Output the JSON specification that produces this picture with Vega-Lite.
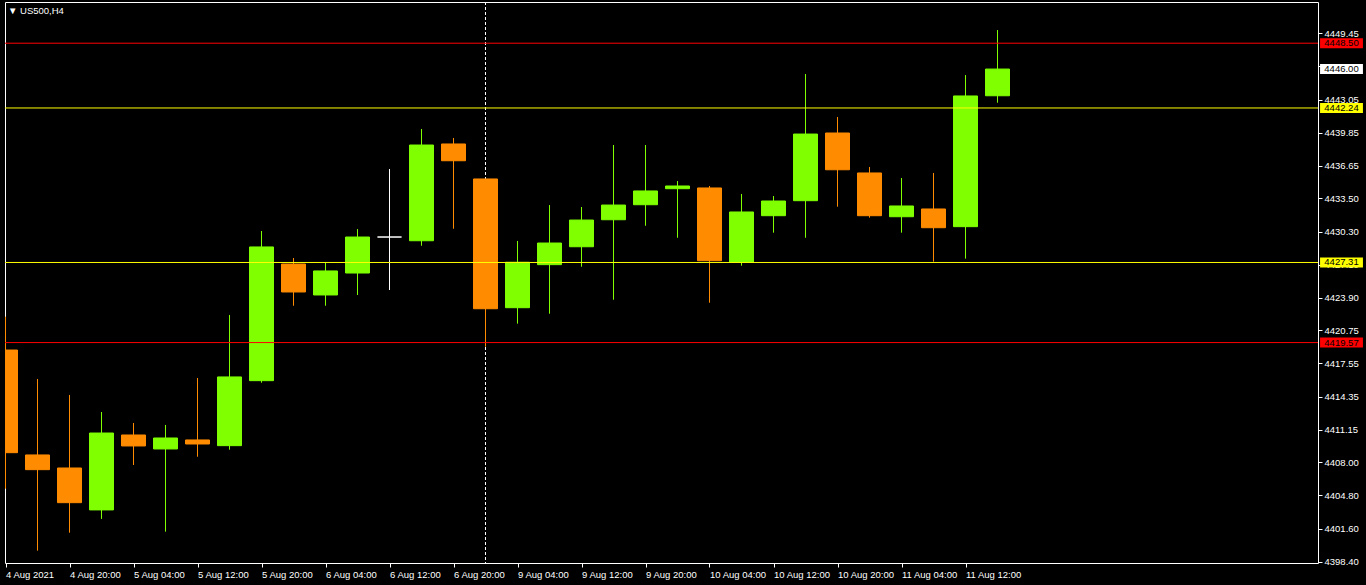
{
  "$schema": "https://vega.github.io/schema/vega-lite/v6.json",
  "width": 1313,
  "height": 561,
  "autosize": "none",
  "padding": {"left": 5, "top": 2, "right": 48, "bottom": 22},
  "background": "#000000",
  "title": {
    "text": "▼ US500,H4",
    "anchor": "start",
    "frame": "group",
    "orient": "none",
    "baseline": "middle",
    "offset": 0,
    "dx": 3,
    "dy": 9,
    "font": "Liberation Sans",
    "fontSize": 9.5,
    "fontWeight": "normal",
    "color": "#FFFFFF"
  },
  "config": {
    "view": {"stroke": "#FFFFFF", "strokeWidth": 1, "fill": "#000000"},
    "axis": {
      "labelFont": "Liberation Sans",
      "labelFontSize": 9.5,
      "labelColor": "#FFFFFF",
      "tickColor": "#FFFFFF",
      "domain": false,
      "grid": false,
      "title": null,
      "labelOverlap": false,
      "labelFlush": false
    }
  },
  "datasets": {
    "candles": [
      {"i": 0, "t": "4 Aug 12:00", "o": 4418.85, "h": 4422.07, "l": 4405.45, "c": 4408.93},
      {"i": 1, "t": "4 Aug 16:00", "o": 4408.71, "h": 4416.05, "l": 4399.46, "c": 4407.29},
      {"i": 2, "t": "4 Aug 20:00", "o": 4407.45, "h": 4414.51, "l": 4401.20, "c": 4404.10},
      {"i": 3, "t": "5 Aug 00:00", "o": 4403.40, "h": 4412.86, "l": 4402.53, "c": 4410.83},
      {"i": 4, "t": "5 Aug 04:00", "o": 4410.64, "h": 4411.80, "l": 4407.74, "c": 4409.58},
      {"i": 5, "t": "5 Aug 08:00", "o": 4409.29, "h": 4411.61, "l": 4401.30, "c": 4410.35},
      {"i": 6, "t": "5 Aug 12:00", "o": 4410.16, "h": 4416.15, "l": 4408.54, "c": 4409.77},
      {"i": 7, "t": "5 Aug 16:00", "o": 4409.61, "h": 4422.24, "l": 4409.22, "c": 4416.25},
      {"i": 8, "t": "5 Aug 20:00", "o": 4415.89, "h": 4430.35, "l": 4415.69, "c": 4428.81},
      {"i": 9, "t": "6 Aug 00:00", "o": 4427.16, "h": 4427.74, "l": 4423.13, "c": 4424.46},
      {"i": 10, "t": "6 Aug 04:00", "o": 4424.17, "h": 4427.33, "l": 4423.13, "c": 4426.49},
      {"i": 11, "t": "6 Aug 08:00", "o": 4426.29, "h": 4430.54, "l": 4424.17, "c": 4429.77},
      {"i": 12, "t": "6 Aug 12:00", "o": 4429.77, "h": 4436.34, "l": 4424.65, "c": 4429.77},
      {"i": 13, "t": "6 Aug 16:00", "o": 4429.41, "h": 4440.21, "l": 4428.93, "c": 4438.66},
      {"i": 14, "t": "6 Aug 20:00", "o": 4438.76, "h": 4439.34, "l": 4430.57, "c": 4437.14},
      {"i": 15, "t": "9 Aug 00:00", "o": 4435.38, "h": 4435.38, "l": 4419.17, "c": 4422.84},
      {"i": 16, "t": "9 Aug 04:00", "o": 4422.94, "h": 4429.39, "l": 4421.40, "c": 4427.33},
      {"i": 17, "t": "9 Aug 08:00", "o": 4427.10, "h": 4432.86, "l": 4422.36, "c": 4429.19},
      {"i": 18, "t": "9 Aug 12:00", "o": 4428.83, "h": 4432.67, "l": 4426.90, "c": 4431.41},
      {"i": 19, "t": "9 Aug 16:00", "o": 4431.44, "h": 4438.66, "l": 4423.71, "c": 4432.86},
      {"i": 20, "t": "9 Aug 20:00", "o": 4432.89, "h": 4438.66, "l": 4430.86, "c": 4434.22},
      {"i": 21, "t": "10 Aug 00:00", "o": 4434.44, "h": 4435.18, "l": 4429.70, "c": 4434.70},
      {"i": 22, "t": "10 Aug 04:00", "o": 4434.51, "h": 4434.70, "l": 4423.42, "c": 4427.48},
      {"i": 23, "t": "10 Aug 08:00", "o": 4427.36, "h": 4433.93, "l": 4427.00, "c": 4432.19},
      {"i": 24, "t": "10 Aug 12:00", "o": 4431.83, "h": 4433.73, "l": 4430.19, "c": 4433.25},
      {"i": 25, "t": "10 Aug 16:00", "o": 4433.28, "h": 4445.52, "l": 4429.70, "c": 4439.72},
      {"i": 26, "t": "10 Aug 20:00", "o": 4439.82, "h": 4441.37, "l": 4432.70, "c": 4436.27},
      {"i": 27, "t": "11 Aug 00:00", "o": 4435.96, "h": 4436.54, "l": 4431.64, "c": 4431.83},
      {"i": 28, "t": "11 Aug 04:00", "o": 4431.73, "h": 4435.47, "l": 4430.19, "c": 4432.77},
      {"i": 29, "t": "11 Aug 08:00", "o": 4432.48, "h": 4435.96, "l": 4427.39, "c": 4430.67},
      {"i": 30, "t": "11 Aug 12:00", "o": 4430.77, "h": 4445.42, "l": 4427.68, "c": 4443.40},
      {"i": 31, "t": "11 Aug 16:00", "o": 4443.42, "h": 4449.77, "l": 4442.75, "c": 4446.00}
    ],
    "levels": [
      {"price": 4448.50, "type": "ask"},
      {"price": 4446.00, "type": "bid"},
      {"price": 4442.24, "type": "resistance"},
      {"price": 4427.31, "type": "support"},
      {"price": 4419.57, "type": "stop"}
    ],
    "markers": [
      {"i": 15, "kind": "separator"}
    ]
  },
  "layer": [
    {
      "data": {"name": "markers"},
      "mark": {"type": "rule", "color": "#FFFFFF", "strokeWidth": 1, "strokeDash": [3, 2], "clip": true},
      "encoding": {
        "x": {"field": "i", "type": "quantitative", "scale": {"domain": [-0.015625, 41.015625], "nice": false, "zero": false, "padding": 0},
          "axis": {
            "orient": "bottom",
            "values": [0, 2, 4, 6, 8, 10, 12, 14, 16, 18, 20, 22, 24, 26, 28, 30],
            "tickCount": 50,
            "labelExpr": "['4 Aug 2021','4 Aug 20:00','5 Aug 04:00','5 Aug 12:00','5 Aug 20:00','6 Aug 04:00','6 Aug 12:00','6 Aug 20:00','9 Aug 04:00','9 Aug 12:00','9 Aug 20:00','10 Aug 04:00','10 Aug 12:00','10 Aug 20:00','11 Aug 04:00','11 Aug 12:00'][round(datum.value/2)]",
            "labelAlign": "left",
            "labelBaseline": "top",
            "labelPadding": 2,
            "labelOverlap": false,
            "tickSize": 4
          }
        }
      }
    },
    {
      "data": {"name": "candles"},
      "mark": {"type": "rule", "strokeWidth": 1, "clip": true},
      "encoding": {
        "x": {"field": "i", "type": "quantitative"},
        "y": {"field": "l", "type": "quantitative", "scale": {"domain": [4398.27, 4452.48], "nice": false, "zero": false, "padding": 0},
          "axis": {
            "orient": "right",
            "values": [4398.40, 4401.60, 4404.80, 4408.00, 4411.15, 4414.35, 4417.55, 4420.75, 4423.90, 4427.10, 4430.30, 4433.50, 4436.65, 4439.85, 4443.05, 4446.25, 4449.45],
            "tickCount": 40,
            "format": ".2f",
            "tickSize": 4,
            "labelPadding": 2,
            "labelBaseline": "middle",
            "labelOverlap": false
          }
        },
        "y2": {"field": "h"},
        "color": {
          "condition": [
            {"test": "datum.c > datum.o", "value": "#7FFF00"},
            {"test": "datum.c < datum.o", "value": "#FF8C00"}
          ],
          "value": "#FFFFFF"
        }
      }
    },
    {
      "data": {"name": "candles"},
      "mark": {"type": "bar", "size": 24, "strokeWidth": 1, "clip": true},
      "encoding": {
        "x": {"field": "i", "type": "quantitative"},
        "y": {"field": "o", "type": "quantitative"},
        "y2": {"field": "c"},
        "color": {
          "condition": [
            {"test": "datum.c > datum.o", "value": "#7FFF00"},
            {"test": "datum.c < datum.o", "value": "#FF8C00"}
          ],
          "value": "#FFFFFF"
        },
        "stroke": {
          "condition": [
            {"test": "datum.c > datum.o", "value": "#7FFF00"},
            {"test": "datum.c < datum.o", "value": "#FF8C00"}
          ],
          "value": "#FFFFFF"
        }
      }
    },
    {
      "data": {"name": "levels"},
      "transform": [{"filter": "datum.type != 'bid'"}],
      "mark": {"type": "rule", "strokeWidth": 1, "clip": true},
      "encoding": {
        "y": {"field": "price", "type": "quantitative"},
        "color": {"field": "type", "type": "nominal",
          "scale": {"domain": ["ask", "bid", "resistance", "support", "stop"], "range": ["#FF0000", "#FFFFFF", "#FFFF00", "#FFFF00", "#FF0000"]},
          "legend": null}
      }
    },
    {
      "data": {"name": "levels"},
      "mark": {"type": "bar", "size": 10, "clip": false},
      "encoding": {
        "x": {"datum": 41.08, "type": "quantitative"},
        "x2": {"datum": 42.42},
        "y": {"field": "price", "type": "quantitative"},
        "color": {"field": "type", "type": "nominal", "legend": null}
      }
    },
    {
      "data": {"name": "levels"},
      "mark": {"type": "text", "clip": false, "font": "Liberation Sans", "fontSize": 9.5, "align": "center", "baseline": "middle", "color": "#000000"},
      "encoding": {
        "x": {"datum": 41.75, "type": "quantitative"},
        "y": {"field": "price", "type": "quantitative"},
        "text": {"field": "price", "type": "quantitative", "format": ".2f"}
      }
    }
  ]
}
